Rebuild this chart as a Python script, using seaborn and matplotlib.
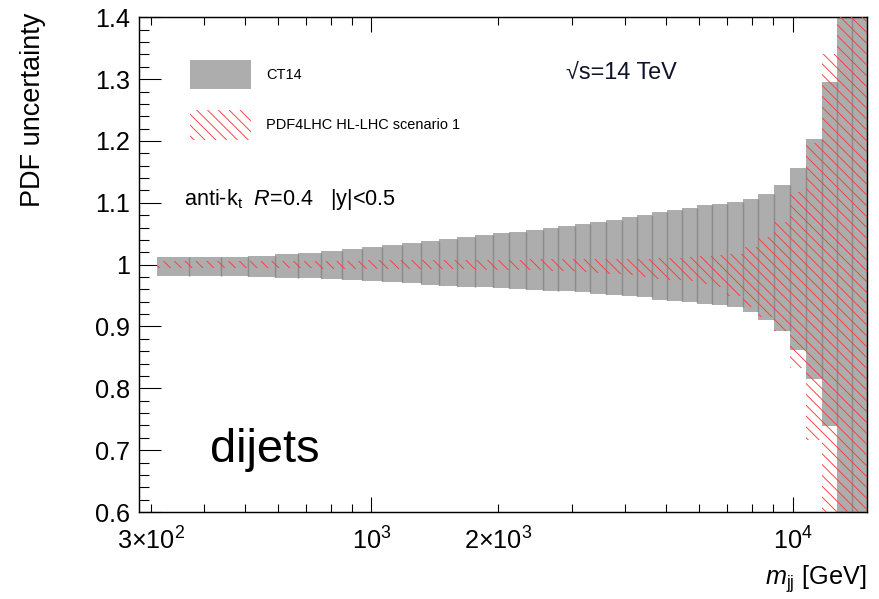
import numpy as np
import matplotlib
matplotlib.use("Agg")
import matplotlib.pyplot as plt
import seaborn as sns
from matplotlib.ticker import FixedLocator, FuncFormatter, MultipleLocator

# Dijet invariant-mass bin edges [GeV]
mjj_edges = [310, 370, 440, 510, 590, 670, 760, 850, 950, 1060, 1180, 1310,
             1450, 1600, 1760, 1940, 2120, 2330, 2550, 2780, 3040, 3310, 3610,
             3930, 4270, 4640, 5040, 5470, 5940, 6440, 7000, 7620, 8300, 9060,
             9870, 10760, 11740, 12750, 13840, 15000]

# CT14 relative PDF uncertainty band (upper / lower edge per bin)
ct14_up = [1.0124, 1.0124, 1.0124, 1.0140, 1.0172, 1.0193, 1.0221, 1.0253,
           1.0285, 1.0318, 1.0350, 1.0382, 1.0415, 1.0447, 1.0479, 1.0512,
           1.0528, 1.0560, 1.0593, 1.0625, 1.0657, 1.0690, 1.0722, 1.0770,
           1.0803, 1.0852, 1.0884, 1.0911, 1.0960, 1.0981, 1.1013, 1.1057,
           1.1137, 1.1283, 1.1558, 1.2037, 1.2960, 1.5200, 1.7500]
ct14_down = [0.9811, 0.9811, 0.9811, 0.9795, 0.9790, 0.9779, 0.9763, 0.9752,
             0.9736, 0.9714, 0.9698, 0.9676, 0.9655, 0.9643, 0.9633, 0.9617,
             0.9601, 0.9590, 0.9579, 0.9569, 0.9558, 0.9530, 0.9514, 0.9488,
             0.9470, 0.9428, 0.9412, 0.9396, 0.9359, 0.9352, 0.9320, 0.9234,
             0.9105, 0.8932, 0.8620, 0.8156, 0.7391, 0.5000, 0.3000]

# PDF4LHC HL-LHC scenario 1 band
hllhc_up = [1.0055, 1.0055, 1.0055, 1.0058, 1.0060, 1.0062, 1.0064, 1.0066,
            1.0068, 1.0070, 1.0072, 1.0073, 1.0075, 1.0076, 1.0078, 1.0080,
            1.0082, 1.0084, 1.0086, 1.0088, 1.0090, 1.0092, 1.0094, 1.0096,
            1.0098, 1.0110, 1.0115, 1.0120, 1.0140, 1.0150, 1.0172, 1.0280,
            1.0442, 1.0686, 1.1172, 1.1960, 1.3410, 1.6000, 1.8000]
hllhc_down = [0.9942, 0.9942, 0.9941, 0.9940, 0.9939, 0.9938, 0.9936, 0.9934,
              0.9932, 0.9930, 0.9928, 0.9926, 0.9924, 0.9922, 0.9920, 0.9916,
              0.9912, 0.9906, 0.9900, 0.9892, 0.9884, 0.9870, 0.9856, 0.9830,
              0.9800, 0.9760, 0.9745, 0.9730, 0.9680, 0.9640, 0.9500, 0.9318,
              0.9156, 0.8932, 0.8324, 0.7164, 0.5000, 0.4000, 0.2000]

sns.set_theme(style="ticks")
plt.rcParams["font.family"] = ["Liberation Sans", "DejaVu Sans"]
plt.rcParams["mathtext.fontset"] = "custom"
plt.rcParams["mathtext.rm"] = "Liberation Sans"
plt.rcParams["mathtext.it"] = "Liberation Sans:italic"
plt.rcParams["mathtext.bf"] = "Liberation Sans:bold"
plt.rcParams["hatch.linewidth"] = 0.5
plt.rcParams["text.color"] = "black"
plt.rcParams["axes.edgecolor"] = "black"
plt.rcParams["xtick.color"] = "black"
plt.rcParams["ytick.color"] = "black"

DPI = 130
W, H = 879, 599
fig = plt.figure(figsize=(W / DPI, H / DPI), dpi=DPI)
ax = fig.add_axes([138.5 / W, 1 - 512 / H, (866.7 - 138.5) / W, (512 - 17.3) / H])

edges = np.array(mjj_edges, dtype=float)
left = edges[:-1]
widths = np.diff(edges)
up = np.array(ct14_up)
dn = np.array(ct14_down)
hu = np.array(hllhc_up)
hd = np.array(hllhc_down)

# CT14 band as filled boxes
ax.bar(left, up - dn, bottom=dn, width=widths, align="edge",
       color="#adadad", linewidth=0, label="CT14", zorder=2)
# darker seams between neighbouring boxes
for i in range(1, len(edges) - 1):
    lo = max(dn[i - 1], dn[i])
    hi = min(up[i - 1], up[i])
    ax.vlines(edges[i], lo, hi, color="#8c8c8c", linewidth=0.8, zorder=2.5)

# HL-LHC projection as red hatched boxes
ax.bar(left, hu - hd, bottom=hd, width=widths, align="edge",
       facecolor="none", edgecolor="#ff3a3a", hatch="\\\\\\\\", linewidth=0,
       label="PDF4LHC HL-LHC scenario 1", zorder=3)

ax.set_xscale("log")
ax.set_xlim(280, 15000)
ax.set_ylim(0.6, 1.4)

major_x = [1000, 10000]
major_x_labels = {1000: r"$10^{3}$", 10000: r"$10^{4}$"}
minor_x = [300, 400, 500, 600, 700, 800, 900,
           2000, 3000, 4000, 5000, 6000, 7000, 8000, 9000]
minor_x_labels = {300: r"$3{\times}10^{2}$", 2000: r"$2{\times}10^{3}$"}

ax.xaxis.set_major_locator(FixedLocator(major_x))
ax.xaxis.set_major_formatter(FuncFormatter(
    lambda v, p: major_x_labels.get(int(round(v)), "")))
ax.xaxis.set_minor_locator(FixedLocator(minor_x))
ax.xaxis.set_minor_formatter(FuncFormatter(
    lambda v, p: minor_x_labels.get(int(round(v)), "")))

ax.yaxis.set_major_locator(MultipleLocator(0.1))
ax.yaxis.set_minor_locator(MultipleLocator(0.02))
ax.yaxis.set_major_formatter(FuncFormatter(
    lambda v, p: "1" if abs(v - 1) < 1e-9 else f"{v:.1f}"))

ax.tick_params(axis="x", which="major", direction="in", length=8.3, width=0.6,
               top=True, labelsize=14, pad=8.5)
ax.tick_params(axis="x", which="minor", direction="in", length=4.4, width=0.6,
               top=True, labelsize=14, pad=8.5)
ax.tick_params(axis="y", which="major", direction="in", length=12.2, width=0.6,
               right=True, labelsize=14, pad=4.5)
ax.tick_params(axis="y", which="minor", direction="in", length=5.8, width=0.6,
               right=True)
for s in ax.spines.values():
    s.set_linewidth(0.8)
    s.set_color("black")
ax.set_facecolor("white")

# legend
ax.legend(loc="upper left", bbox_to_anchor=(190 / W, 1 - 59.5 / H),
          bbox_transform=fig.transFigure, frameon=False, fontsize=8,
          handlelength=4.25, handleheight=2.8, labelspacing=1.45,
          handletextpad=1.0, borderpad=0, borderaxespad=0)

fig.text(566 / W, 1 - 72 / H, "\u221as=14 TeV", fontsize=13, va="center",
         color="#10142a")
fig.text(184 / W, 1 - 205 / H, r"anti-k$_{\mathrm{t}}$  $R$=0.4   |y|<0.5",
         fontsize=12, va="baseline")
fig.text(210 / W, 1 - 462 / H, "dijets", fontsize=26, va="baseline")
fig.text(866 / W, 1 - 585 / H, r"$m_{\mathrm{jj}}$ [GeV]", fontsize=14,
         ha="right", va="baseline")
fig.text(33 / W, 1 - 13 / H, "PDF uncertainty", fontsize=15, rotation=90,
         ha="center", va="top")

fig.savefig("out.png", dpi=DPI, facecolor="white")
